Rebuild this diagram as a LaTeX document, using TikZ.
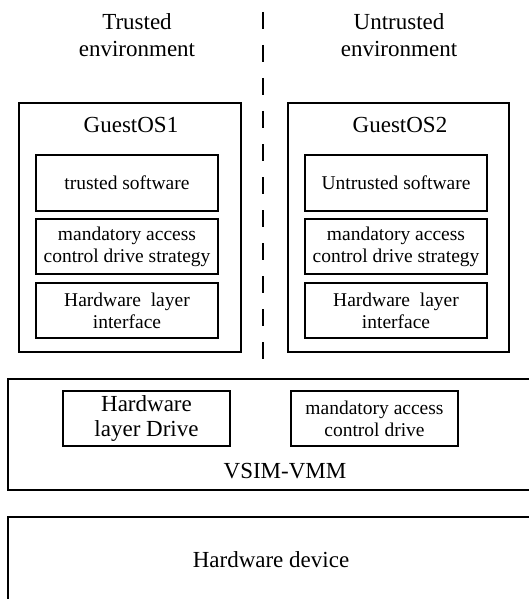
\documentclass[tikz,border=0pt]{standalone}
\usepackage{fontspec}
\setmainfont{Liberation Serif}
\begin{document}
\begin{tikzpicture}[x=1pt,y=-1pt,
  big/.style={font=\fontsize{23}{26}\selectfont},
  small/.style={font=\fontsize{19.5}{22}\selectfont},
  box/.style={draw, line width=1.2pt, rectangle, inner sep=0pt, align=center},
  txt/.style={inner sep=0pt, align=center},
  sep/.style={line width=1.2pt, dash pattern=on 17pt off 16pt}]
\useasboundingbox (0,0) rectangle (529,599);
\clip (0,0) rectangle (529,599);
% environment labels
\node[txt, big, font=\fontsize{23}{27}\selectfont] (trl) at (137,35) {Trusted\\environment};
\node[txt, big, font=\fontsize{23}{27}\selectfont] (utrl) at (399,35) {Untrusted\\environment};
% separator
\coordinate (dtop) at (263,12);
\coordinate (dbot) at (263,372);
\draw[sep] (dtop) -- (dbot);
% GuestOS boxes
\node[box, minimum width=222pt, minimum height=249pt] (g1) at (130,227.5) {};
\node[box, minimum width=221pt, minimum height=249pt] (g2) at (398.5,227.5) {};
\node[txt, big, anchor=base] (g1t) at (131,132) {GuestOS1};
\node[txt, big, anchor=base] (g2t) at (400,132) {GuestOS2};
% inner boxes left
\node[box, small, minimum width=182pt, minimum height=56pt] (ts) at (127,183) {trusted software};
\node[box, small, minimum width=182pt, minimum height=55pt] (mac1) at (127,246.5) {mandatory access\\control drive strategy};
\node[box, small, minimum width=182pt, minimum height=55pt] (hli1) at (127,310.5) {Hardware~~layer\\interface};
% inner boxes right
\node[box, small, minimum width=182pt, minimum height=56pt] (us) at (396,183) {Untrusted software};
\node[box, small, minimum width=182pt, minimum height=55pt] (mac2) at (396,246.5) {mandatory access\\control drive strategy};
\node[box, small, minimum width=182pt, minimum height=55pt] (hli2) at (396,310.5) {Hardware~~layer\\interface};
% VSIM-VMM
\node[box, minimum width=552pt, minimum height=111pt] (vmm) at (284,434.5) {};
\node[box, big, font=\fontsize{23}{25}\selectfont, minimum width=167pt, minimum height=55pt] (hld) at (146.5,418.5) {Hardware\\layer Drive};
\node[box, small, minimum width=167pt, minimum height=55pt] (macd) at (374.5,418.5) {mandatory access\\control drive};
\node[txt, big, anchor=base] (vmmt) at (285,478) {VSIM-VMM};
% Hardware device
\node[box, minimum width=552pt, minimum height=123pt] (hw) at (284,578.5) {};
\node[txt, big, anchor=base] (hwt) at (271,567) {Hardware device};
\end{tikzpicture}
\end{document}
